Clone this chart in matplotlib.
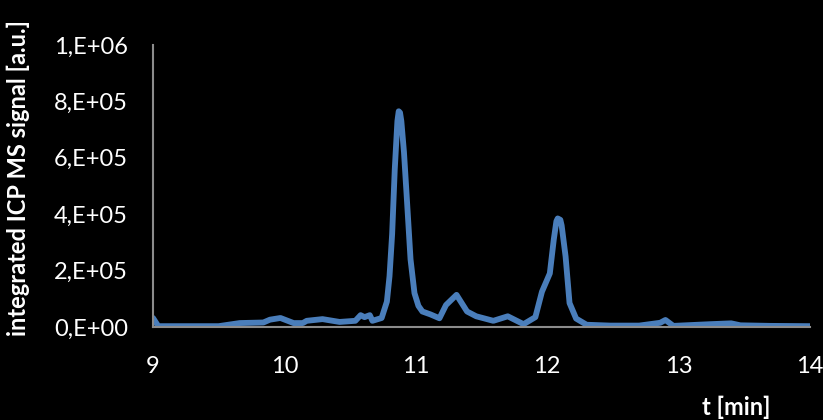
import matplotlib.pyplot as plt

# chromatogram trace
t = [9.00, 9.04, 9.20, 9.50, 9.66, 9.84, 9.89, 9.97, 10.07, 10.14, 10.17, 10.29,
     10.42, 10.54, 10.58, 10.61, 10.65, 10.67, 10.74, 10.78, 10.80, 10.82, 10.84, 10.86,
     10.87, 10.88, 10.89, 10.91, 10.93, 10.96, 10.99, 11.02, 11.05, 11.11, 11.18, 11.23,
     11.31, 11.39, 11.46, 11.59, 11.70, 11.82, 11.91, 11.96, 12.02, 12.05, 12.07, 12.08,
     12.10, 12.11, 12.14, 12.17, 12.22, 12.30, 12.48, 12.70, 12.86, 12.90, 12.96, 13.24,
     13.40, 13.47, 13.70, 14.00]
signal = [32000, 3000, 3000, 3000, 14000, 16000, 26000, 32000, 14000, 14000, 22000, 28000,
          18000, 22000, 42000, 35000, 42000, 22000, 32000, 90000, 180000, 330000, 560000, 730000,
          765000, 760000, 730000, 620000, 470000, 240000, 120000, 75000, 55000, 45000, 31000, 78000,
          114000, 55000, 38000, 22000, 38000, 10000, 35000, 125000, 190000, 310000, 375000, 385000,
          380000, 360000, 250000, 85000, 30000, 8000, 5000, 5000, 15000, 25000, 4000, 10000,
          13000, 6000, 4000, 3000]

xticks = [9, 10, 11, 12, 13, 14]
yticks = [0, 200000, 400000, 600000, 800000, 1000000]
ylabels = ['0,E+00', '2,E+05', '4,E+05', '6,E+05', '8,E+05', '1,E+06']

plt.rcParams['font.family'] = ['Lato', 'DejaVu Sans']

fig = plt.figure(figsize=(8.23, 4.2), dpi=100, facecolor='black')
ax = fig.add_axes([0.1859, 0.2214, 0.7983, 0.6715], facecolor='black')

ax.plot(t, signal, color='#4a7ebb', linewidth=4.2, solid_joinstyle='round',
        solid_capstyle='round')

ax.set_xlim(9, 14)
ax.set_ylim(0, 1000000)
ax.set_xticks(xticks)
ax.set_xticklabels([str(x) for x in xticks])
ax.set_yticks(yticks)
ax.set_yticklabels(ylabels)
ax.tick_params(colors='white', labelsize=17, length=0)
ax.tick_params(axis='y', pad=18)
ax.tick_params(axis='x', pad=21)

for side in ['top', 'right']:
    ax.spines[side].set_visible(False)
ax.spines['left'].set_color('#8c8c8c')
ax.spines['bottom'].set_color('#8c8c8c')
ax.spines['left'].set_linewidth(1.5)
ax.spines['bottom'].set_linewidth(1.5)

fig.text(0.022, 0.575, 'integrated ICP MS signal [a.u.]', rotation=90, color='white',
         fontsize=17, fontweight='bold', ha='center', va='center')
fig.text(0.895, 0.03, 't [min]', color='white', fontsize=17, fontweight='bold',
         ha='center', va='center')

fig.savefig('out.png', dpi=100, facecolor='black')
